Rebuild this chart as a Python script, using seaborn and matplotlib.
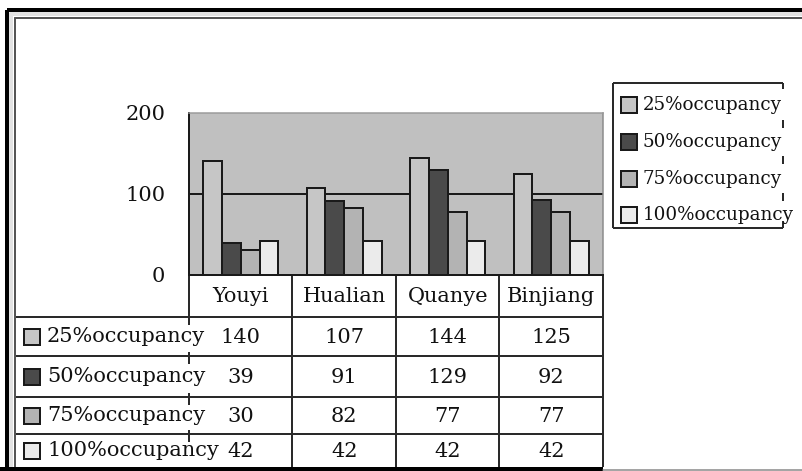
import numpy as np
import pandas as pd
import matplotlib
matplotlib.use("Agg")
import matplotlib.pyplot as plt
import matplotlib.transforms as mtransforms
from matplotlib.patches import Rectangle
import seaborn as sns

# Data
sites = ["Youyi", "Hualian", "Quanye", "Binjiang"]
levels = ["25%occupancy", "50%occupancy", "75%occupancy", "100%occupancy"]
occ25 = [140, 107, 144, 125]
occ50 = [39, 91, 129, 92]
occ75 = [30, 82, 77, 77]
occ100 = [42, 42, 42, 42]
yticks = [0, 100, 200]
colors = ["#C6C6C6", "#4A4A4A", "#B3B3B3", "#EBEBEB"]

series = [occ25, occ50, occ75, occ100]
df = pd.DataFrame({
    "site": np.tile(sites, len(levels)),
    "level": np.repeat(levels, len(sites)),
    "value": np.concatenate(series),
})

sns.set_style("white")
plt.rcParams["font.family"] = ["DejaVu Serif"]
FS = 15
LEG_FS = 13.2
INK = "#1a1a1a"

W, H = 803, 471
PX = 72 / 100  # one pixel in points
fig = plt.figure(figsize=(W / 100, H / 100), dpi=100)
fig.patch.set_facecolor("white")

# full-figure overlay in pixel units (y down) for frame, table and legend
ov = fig.add_axes([0, 0, 1, 1], zorder=0)
ov.set_xlim(0, W)
ov.set_ylim(H, 0)
ov.axis("off")

# plot area
ax_left, ax_right, ax_top, ax_bot = 189, 603, 113, 274.5
ax = fig.add_axes([ax_left / W, 1 - ax_bot / H, (ax_right - ax_left) / W,
                   (ax_bot - ax_top) / H], zorder=1)
sns.barplot(data=df, x="site", y="value", hue="level", order=sites,
            hue_order=levels, palette=colors, saturation=1, width=0.725,
            edgecolor=INK, linewidth=2 * PX, errorbar=None, legend=False,
            ax=ax)
ax.set_facecolor("#C0C0C0")
ax.set_xlim(-0.5, len(sites) - 0.5)
ax.set_ylim(yticks[0], yticks[-1])
ax.set_yticks(yticks)
ax.set_xticks([])
ax.set_xlabel("")
ax.set_ylabel("")
ax.axhline(yticks[1], color=INK, lw=2 * PX, zorder=0.5)
ax.tick_params(axis="y", direction="in", length=5, width=2 * PX,
               color=INK, pad=17, labelsize=FS, labelcolor="#111")
for side, col, lw in [("left", INK, 2), ("bottom", INK, 2),
                      ("top", "#9a9a9a", 1.5), ("right", "#8a8a8a", 1.5)]:
    ax.spines[side].set_visible(True)
    ax.spines[side].set_color(col)
    ax.spines[side].set_linewidth(lw * PX)

# outer frame
ov.plot([7, 7], [10, H], color="black", lw=4 * PX, solid_capstyle="butt")
ov.plot([7, W], [10, 10], color="black", lw=4 * PX, solid_capstyle="butt")
ov.plot([11, 11], [14, H], color="#E2E2E2", lw=4 * PX)
ov.plot([11, W], [14, 14], color="#E2E2E2", lw=4 * PX)
ov.plot([15.5, 15.5], [18, H], color="#555555", lw=2 * PX)
ov.plot([15.5, W], [18, 18], color="#555555", lw=2 * PX)
ov.plot([0, ax_right], [469, 469], color="black", lw=4 * PX, solid_capstyle="butt")
ov.plot([ax_right, W], [469.5, 469.5], color="#888888", lw=1.5 * PX)

# data table below the plot area, columns follow the category axis
bt = mtransforms.blended_transform_factory(ax.transData, ov.transData)
header_bot = 317
row_tops = [317, 356, 397, 434]
table_bot = 467
row_bots = row_tops[1:] + [table_bot]
line_kw = dict(color="#2a2a2a", lw=2 * PX, solid_capstyle="butt")

for i in range(len(sites) + 1):
    x = i - 0.5
    ov.plot([x, x], [ax_bot, header_bot], transform=bt, **line_kw)
    if 0 < i:
        ov.plot([x, x], [header_bot, table_bot], transform=bt, **line_kw)
for y in row_tops:
    ov.plot([16, ax_right], [y, y], **line_kw)
    ov.plot([-0.5, -0.5], [y - 4, y + 8], transform=bt, **line_kw)

for i, s in enumerate(sites):
    ov.text(i, (ax_bot + header_bot) / 2 + 1, s, transform=bt, ha="center",
            va="center", fontsize=FS, color="#111")

for lvl, col, vals, top, bot in zip(levels, colors, series, row_tops, row_bots):
    yc = (top + bot) / 2
    ov.add_patch(Rectangle((24, yc - 8), 16, 16, facecolor=col,
                           edgecolor=INK, lw=2 * PX))
    ov.text(47, yc, lvl, ha="left", va="center", fontsize=FS, color="#111")
    for i, v in enumerate(vals):
        ov.text(i, yc + 1, str(v), transform=bt, ha="center", va="center",
                fontsize=FS, color="#111")

# legend
lg_l, lg_r, lg_t, lg_b = 613, 783, 83, 228
lg_rows = [105, 142, 178.5, 215]
ov.plot([lg_l, lg_l], [lg_t, lg_b], **line_kw)
ov.plot([lg_l, lg_r], [lg_t, lg_t], **line_kw)
ov.plot([lg_l, lg_r], [lg_b, lg_b], **line_kw)
ov.plot([lg_r, lg_r], [lg_t, lg_t + 6], **line_kw)
ov.plot([lg_r, lg_r], [lg_b - 7, lg_b], **line_kw)
for a, b in zip(lg_rows[:-1], lg_rows[1:]):
    m = (a + b) / 2
    ov.plot([lg_r, lg_r], [m - 4, m + 4], **line_kw)
for lvl, col, yc in zip(levels, colors, lg_rows):
    ov.add_patch(Rectangle((621, yc - 8), 16, 16, facecolor=col,
                           edgecolor=INK, lw=2 * PX))
    ov.text(643, yc, lvl, ha="left", va="center", fontsize=LEG_FS,
            color="#111")

fig.savefig("out.png", dpi=100)
